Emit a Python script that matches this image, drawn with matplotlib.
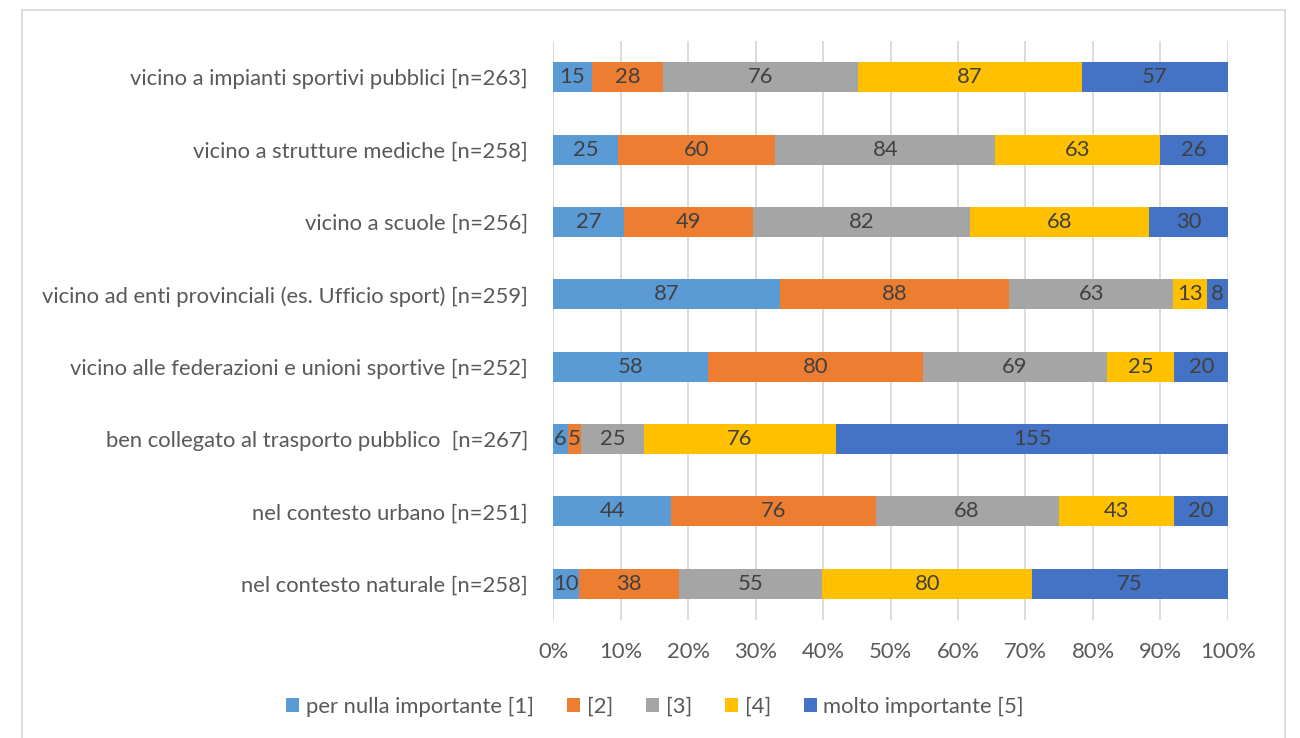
import numpy as np
import matplotlib.pyplot as plt
from matplotlib.patches import Rectangle

# categories bottom -> top
categories = [
    "nel contesto naturale [n=258]",
    "nel contesto urbano [n=251]",
    "ben collegato al trasporto pubblico  [n=267]",
    "vicino alle federazioni e unioni sportive [n=252]",
    "vicino ad enti provinciali (es. Ufficio sport) [n=259]",
    "vicino a scuole [n=256]",
    "vicino a strutture mediche [n=258]",
    "vicino a impianti sportivi pubblici [n=263]",
]
series_names = ["per nulla importante [1]", "[2]", "[3]", "[4]", "molto importante [5]"]
v1 = [10, 44, 6, 58, 87, 27, 25, 15]
v2 = [38, 76, 5, 80, 88, 49, 60, 28]
v3 = [55, 68, 25, 69, 63, 82, 84, 76]
v4 = [80, 43, 76, 25, 13, 68, 63, 87]
v5 = [75, 20, 155, 20, 8, 30, 26, 57]
colors = ["#5B9BD5", "#ED7D31", "#A5A5A5", "#FFC000", "#4472C4"]

plt.rcParams['font.family'] = ['Lato', 'DejaVu Sans']
text_col = "#595959"
fs = 15.8

data = np.array([v1, v2, v3, v4, v5], dtype=float)
totals = data.sum(axis=0)
shares = data / totals

fig = plt.figure(figsize=(13, 7.38), dpi=100)
ax = fig.add_axes([0.4254, 0.1599, 0.5192, 0.7846])

y = np.arange(len(categories))
left = np.zeros(len(categories))
for i in range(5):
    bars = ax.barh(y, shares[i], left=left, height=0.415, color=colors[i],
                   label=series_names[i], zorder=3)
    ax.bar_label(bars, labels=[str(int(v)) for v in data[i]], label_type='center',
                 fontsize=fs, color="#404040")
    left += shares[i]

ax.set_xlim(0, 1)
ax.set_ylim(-0.5, len(categories) - 0.5)
ax.set_xticks(np.arange(0, 1.01, 0.1))
ax.set_xticklabels([f"{int(round(t * 100))}%" for t in np.arange(0, 1.01, 0.1)])
ax.set_yticks(y)
ax.set_yticklabels(categories)
ax.tick_params(axis='both', length=0, labelsize=fs, labelcolor=text_col)
ax.tick_params(axis='x', pad=16)
ax.tick_params(axis='y', pad=18)
ax.grid(axis='x', color="#D9D9D9", linewidth=1.3, zorder=0)
for s in ax.spines.values():
    s.set_visible(False)

fig.legend(loc='center', bbox_to_anchor=(0.504, 0.042), ncol=5, frameon=False,
           fontsize=fs, labelcolor=text_col, handlelength=0.6, handleheight=0.6,
           handletextpad=0.3, columnspacing=1.5)

# chart area frame
fig.patches.append(Rectangle((22 / 1300, -0.05), (1285 - 22) / 1300, 1.05 - 10 / 738,
                             transform=fig.transFigure, fill=False,
                             edgecolor="#D9D9D9", linewidth=1.3))

plt.savefig("out.png", dpi=100)
